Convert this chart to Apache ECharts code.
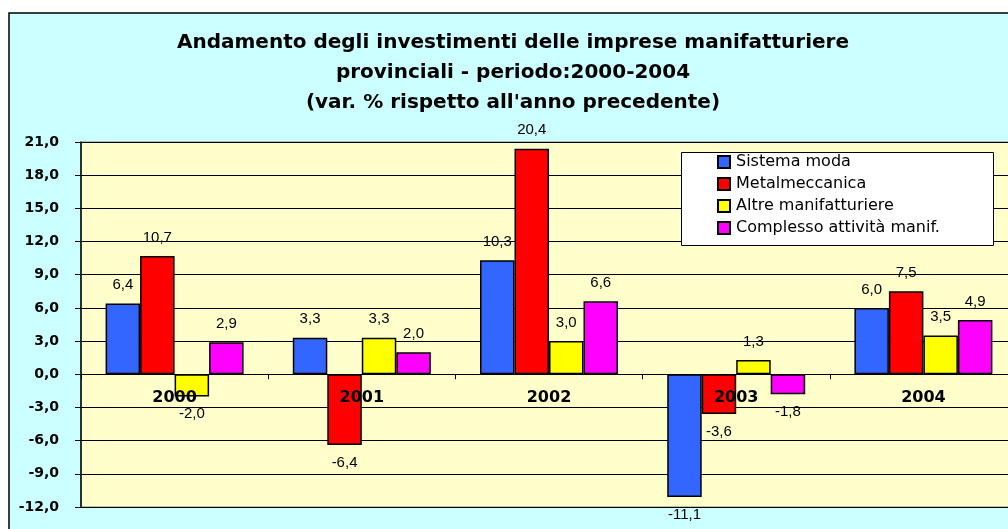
<!DOCTYPE html>
<html>
<head>
<meta charset="utf-8">
<script src="https://cdn.jsdelivr.net/npm/echarts@6/dist/echarts.min.js"></script>
<style>
html,body{margin:0;padding:0;background:#ffffff;}
#c{width:1008px;height:529px;}
</style>
</head>
<body>
<div id="c"></div>
<script>
const categories = ['2000', '2001', '2002', '2003', '2004'];
const seriesNames = ['Sistema moda', 'Metalmeccanica', 'Altre manifatturiere', 'Complesso attività manif.'];
const sistemaModa = [6.4, 3.3, 10.3, -11.1, 6.0];
const metalmeccanica = [10.7, -6.4, 20.4, -3.6, 7.5];
const altreManifatturiere = [-2.0, 3.3, 3.0, 1.3, 3.5];
const complessoAttivita = [2.9, 2.0, 6.6, -1.8, 4.9];
const seriesColors = ['#3366ff', '#ff0000', '#ffff00', '#ff00ff'];
const titleLines = [
  'Andamento degli investimenti delle imprese manifatturiere',
  'provinciali - periodo:2000-2004',
  "(var. % rispetto all'anno precedente)"
];
const yMin = -12, yMax = 21, yStep = 3;

const fmt = v => v.toFixed(1).replace('.', ',');
const allValues = [sistemaModa, metalmeccanica, altreManifatturiere, complessoAttivita];

const chart = echarts.init(document.getElementById('c'), null, {renderer: 'canvas'});
chart.setOption({
  animation: false,
  backgroundColor: '#ffffff',
  title: {
    text: titleLines.join('\n'),
    left: 513, top: 28, textAlign: 'center', padding: 0,
    textStyle: {fontFamily: 'DejaVu Sans', fontWeight: 'bold', fontSize: 20, lineHeight: 30, color: '#000'}
  },
  graphic: [
    {type: 'rect', z: -100, silent: true,
     shape: {x: 9, y: 13, width: 1030, height: 540},
     style: {fill: '#ccffff', stroke: '#000', lineWidth: 1.5}},
    {type: 'rect', z: 90, silent: true,
     shape: {x: 681.5, y: 152.5, width: 312, height: 93},
     style: {fill: '#ffffff', stroke: '#000', lineWidth: 1}}
  ],
  legend: {
    orient: 'vertical', left: 717, top: 154, z: 100, padding: 0,
    itemWidth: 12, itemHeight: 12, itemGap: 6,
    icon: 'rect',
    textStyle: {fontFamily: 'DejaVu Sans', fontSize: 16, color: '#000', padding: [0, 0, 0, 1]},
    data: seriesNames
  },
  grid: {
    left: 81, top: 142, right: -9, bottom: 22, outerBoundsMode: 'none', containLabel: false,
    show: true, backgroundColor: '#ffffcc', borderColor: '#808080', borderWidth: 1
  },
  xAxis: [{
    type: 'category', data: categories, z: 20,
    axisLine: {onZero: true, lineStyle: {color: '#000', width: 1}},
    axisTick: {show: true, length: 5, lineStyle: {color: '#000'}},
    axisLabel: {show: false}
  }, {
    type: 'category', data: categories, z: 30, position: 'bottom', offset: -133,
    axisLine: {show: false, onZero: false},
    axisTick: {show: false},
    axisLabel: {margin: 16, fontFamily: 'DejaVu Sans', fontWeight: 'bold', fontSize: 16, color: '#000'}
  }],
  yAxis: {
    type: 'value', min: yMin, max: yMax, interval: yStep,
    axisLine: {show: true, lineStyle: {color: '#000', width: 1.5}},
    axisTick: {show: true, length: 6, lineStyle: {color: '#000'}},
    axisLabel: {margin: 22, fontFamily: 'DejaVu Sans', fontWeight: 'bold', fontSize: 14, color: '#000', formatter: v => fmt(v)},
    splitLine: {show: true, lineStyle: {color: '#000', width: 1}}
  },
  series: seriesNames.map((name, i) => ({
    name: name, type: 'bar', barWidth: 34.5, barGap: '0%', xAxisIndex: 0,
    itemStyle: {color: seriesColors[i], borderColor: '#000', borderWidth: 1.5},
    label: {show: true, fontFamily: 'Liberation Sans', fontSize: 15, color: '#000', formatter: p => fmt(p.value)},
    data: allValues[i].map(v => ({value: v, label: {position: v < 0 ? 'bottom' : 'top', distance: v < 0 ? 10 : 11}}))
  }))
});
</script>
</body>
</html>
